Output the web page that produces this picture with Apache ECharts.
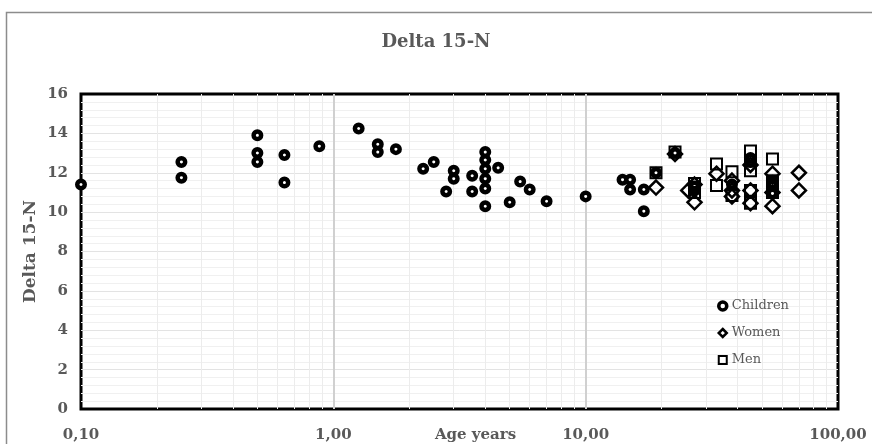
<!DOCTYPE html>
<html>
<head>
<meta charset="utf-8">
<script src="https://cdn.jsdelivr.net/npm/echarts@6/dist/echarts.min.js"></script>
<style>
  html, body { margin: 0; padding: 0; background: #fff; }
  #chart { width: 872px; height: 444px; }
</style>
</head>
<body>
<div id="chart"></div>
<script>
// values (age in years, delta 15-N)
const childrenAge = [0.1, 0.25, 0.25, 0.5, 0.5, 0.5, 0.64, 0.64, 0.88, 1.26, 1.5, 1.5, 1.77,
  2.27, 2.5, 2.8, 3, 3, 3.55, 3.55, 4, 4, 4, 4, 4, 4, 4.5, 5, 5.5, 6, 7, 10,
  14, 15, 15, 17, 17, 19, 22.6, 27, 27, 38, 45, 45, 55, 55, 55];
const childrenN15 = [11.4, 12.55, 11.75, 13.9, 13.0, 12.55, 12.9, 11.5, 13.35, 14.25, 13.45, 13.05, 13.2,
  12.2, 12.55, 11.05, 12.1, 11.7, 11.85, 11.05, 13.05, 12.65, 12.2, 11.7, 11.2, 10.3, 12.25, 10.5, 11.55, 11.15, 10.55, 10.8,
  11.65, 11.65, 11.15, 11.15, 10.05, 12.0, 13.0, 11.1, 11.3, 11.4, 12.55, 12.75, 11.6, 11.35, 10.95];

const womenAge = [19, 22.6, 25.5, 27, 27, 33, 38, 38, 38, 45, 45, 45, 55, 55, 55, 70, 70];
const womenN15 = [11.25, 12.95, 11.1, 11.4, 10.5, 11.95, 11.6, 11.1, 10.8, 12.4, 11.1, 10.45, 11.95, 11.0, 10.3, 12.0, 11.1];

const menAge = [19, 22.6, 27, 27, 33, 33, 38, 38, 45, 45, 45, 45, 45, 55, 55, 55];
const menN15 = [12.0, 13.05, 11.45, 11.0, 12.45, 11.35, 12.05, 10.85, 13.1, 12.6, 12.1, 11.1, 10.45, 12.7, 11.6, 11.0];

// log grid lines
const xGridMinor = [0.2, 0.3, 0.4, 0.5, 0.6, 0.7, 0.8, 0.9, 2, 3, 4, 5, 6, 7, 8, 9, 20, 30, 40, 50, 60, 70, 80, 90];
const xGridMajor = [1, 10];

const pairs = (xs, ys) => xs.map((x, i) => [x, ys[i]]);

const grey = '#595959';
const serif = 'DejaVu Serif';

let chart = echarts.init(document.getElementById('chart'));

let option = {
  animation: false,
  backgroundColor: '#fff',
  graphic: [{
    type: 'rect',
    shape: { x: 6.5, y: 12.5, width: 1000, height: 1000 },
    style: { fill: 'none', stroke: '#8c8c8c', lineWidth: 1.5 },
    silent: true,
    z: -10
  }],
  title: {
    text: 'Delta 15-N',
    left: 'center',
    top: 28,
    textStyle: { fontFamily: serif, fontWeight: 'bold', fontSize: 18, color: grey }
  },
  legend: {
    orient: 'vertical',
    left: 712,
    top: 294,
    itemWidth: 8,
    itemHeight: 8,
    itemGap: 13,
    textStyle: { fontFamily: serif, fontSize: 13, color: grey, lineHeight: 14 },
    data: [
      { name: 'Children', itemStyle: { borderWidth: 3.5 } },
      { name: 'Women', itemStyle: { borderWidth: 2.5 } },
      { name: 'Men', itemStyle: { borderWidth: 2 } }
    ]
  },
  grid: {
    left: 81,
    right: 34,
    top: 94,
    bottom: 35,
    outerBoundsMode: 'none',
    containLabel: false,
    show: true,
    backgroundColor: '#fff',
    borderColor: '#000',
    borderWidth: 3
  },
  xAxis: {
    type: 'log',
    logBase: 10,
    min: 0.1,
    max: 100,
    name: 'Age years',
    nameLocation: 'middle',
    nameGap: 19,
    nameMoveOverlap: false,
    nameTextStyle: { fontFamily: serif, fontWeight: 'bold', fontSize: 15, color: grey, padding: [0, 0, 0, 32] },
    axisLine: { show: false },
    axisTick: { show: false },
    splitLine: { show: false },
    axisLabel: {
      margin: 19,
      fontFamily: serif,
      fontWeight: 'bold',
      fontSize: 15,
      color: grey,
      formatter: function (v) {
        return Number(v).toFixed(2).replace('.', ',');
      }
    }
  },
  yAxis: {
    type: 'value',
    min: 0,
    max: 16,
    interval: 2,
    name: 'Delta 15-N',
    nameLocation: 'middle',
    nameGap: 42,
    nameMoveOverlap: false,
    nameTextStyle: { fontFamily: serif, fontWeight: 'bold', fontSize: 17, color: grey },
    axisLine: { show: false },
    axisTick: { show: false },
    axisLabel: { margin: 13, fontFamily: serif, fontWeight: 'bold', fontSize: 15, color: grey },
    splitLine: { show: true, showMinLine: false, showMaxLine: false, lineStyle: { color: '#e3e3e3', width: 1 } },
    minorTick: { show: false, splitNumber: 5 },
    minorSplitLine: { show: true, lineStyle: { color: '#f0f0f0', width: 1 } }
  },
  series: [
    {
      name: 'grid',
      type: 'scatter',
      data: [],
      silent: true,
      z: 1,
      markLine: {
        silent: true,
        z: 1,
        symbol: 'none',
        label: { show: false },
        emphasis: { disabled: true },
        data: xGridMinor.map(v => ({ xAxis: v, lineStyle: { color: '#ececec', width: 1, type: 'solid' } }))
          .concat(xGridMajor.map(v => ({ xAxis: v, lineStyle: { color: '#d0d0d0', width: 2, type: 'solid' } })))
      }
    },
    {
      name: 'Children',
      type: 'scatter',
      symbol: 'circle',
      symbolSize: 7.5,
      z: 3,
      itemStyle: { color: '#fff', borderColor: '#000', borderWidth: 4.5, opacity: 1 },
      data: pairs(childrenAge, childrenN15)
    },
    {
      name: 'Women',
      type: 'scatter',
      symbol: 'diamond',
      symbolSize: 14,
      z: 4,
      itemStyle: { color: 'rgba(0,0,0,0)', borderColor: '#000', borderWidth: 2.5, opacity: 1 },
      data: pairs(womenAge, womenN15)
    },
    {
      name: 'Men',
      type: 'scatter',
      symbol: 'rect',
      symbolSize: 11,
      z: 5,
      itemStyle: { color: 'rgba(0,0,0,0)', borderColor: '#000', borderWidth: 2, opacity: 1 },
      data: pairs(menAge, menN15)
    }
  ]
};

option && chart.setOption(option);
</script>
</body>
</html>
